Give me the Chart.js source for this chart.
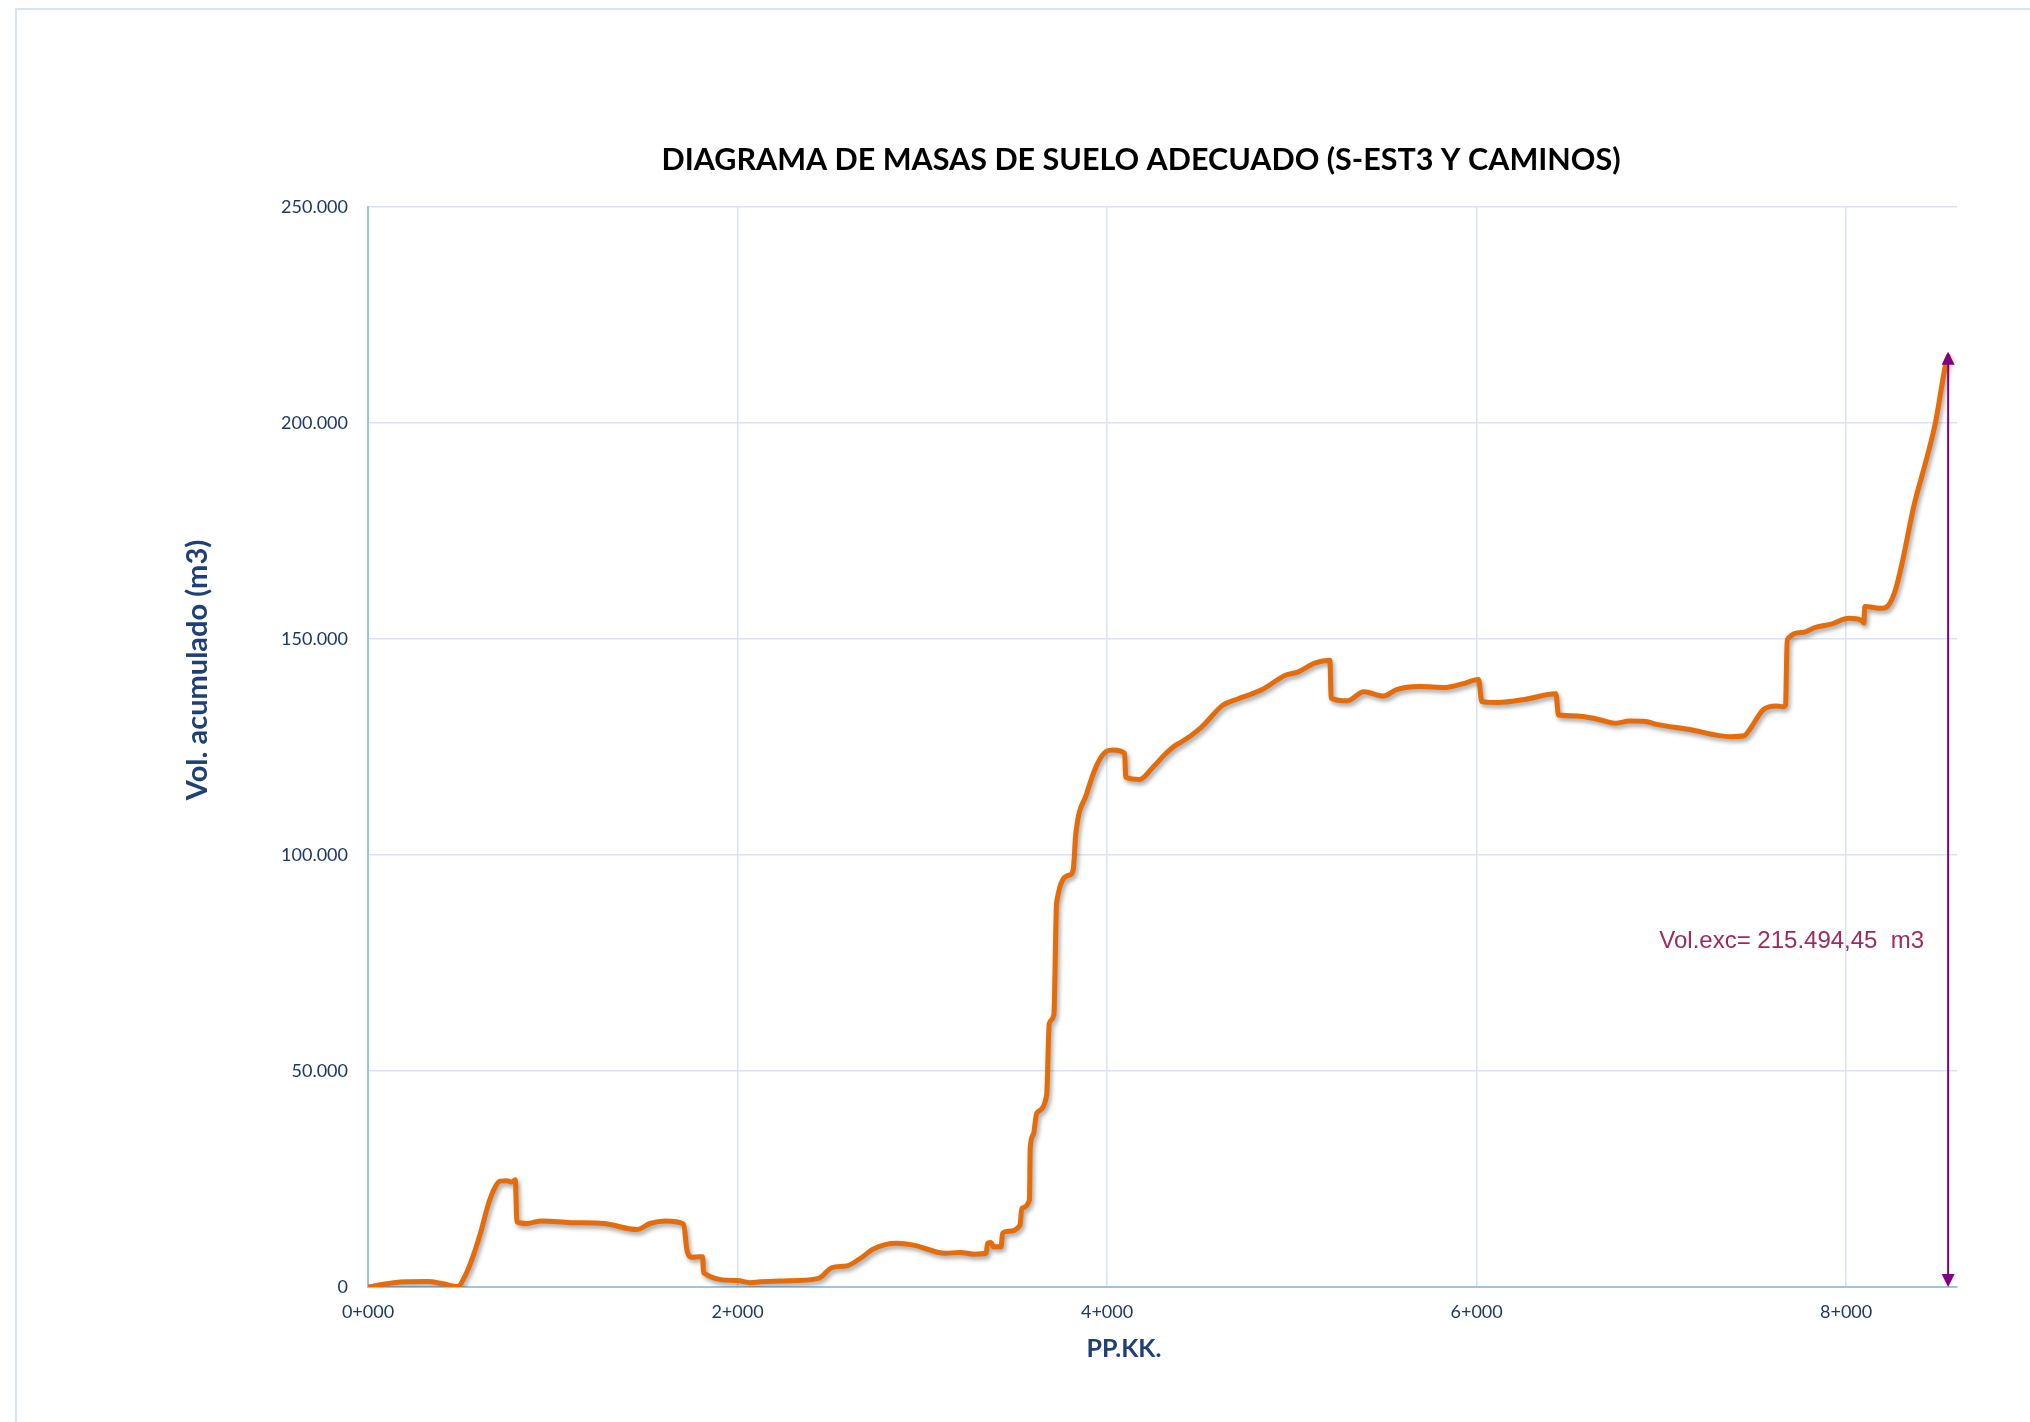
<!DOCTYPE html>
<html lang="es">
<head>
    <meta charset="UTF-8">
    <title>Diagrama de masas</title>
    <script src="https://cdn.jsdelivr.net/npm/chart.js"></script>
    <style>
        html, body {margin: 0; padding: 0; background: #fff;}
        #wrap {width: 2030px; height: 1422px;}
    </style>
</head>
<body>
    <div id="wrap">
        <canvas id="mass_canvas" width="2030" height="1422"></canvas>
    </div>
    <script>
        // PK (m) and accumulated volume (m3)
        const chainage = [
            0, 140, 320, 400, 485, 530, 555, 608, 653, 689, 715, 750, 779, 797, 806, 860, 941, 1095, 1275, 1455,
            1527, 1609, 1708, 1726, 1753, 1790, 1811, 1816, 1997, 2069, 2123, 2249, 2438, 2511, 2592, 2664, 2736, 2862, 2952, 3124,
            3205, 3277, 3346, 3353, 3371, 3386, 3426, 3435, 3466, 3529, 3538, 3580, 3584, 3601, 3619, 3673, 3687, 3712, 3727, 3799,
            3817, 3831, 3889, 3943, 3996, 4032, 4095, 4101, 4176, 4248, 4311, 4374, 4397, 4504, 4628, 4699, 4840, 4965, 5035, 5124,
            5206, 5213, 5301, 5390, 5496, 5567, 5691, 5833, 5922, 6011, 6028, 6117, 6259, 6429, 6443, 6543, 6649, 6755, 6826, 6915,
            6968, 7145, 7376, 7447, 7482, 7553, 7624, 7659, 7672, 7681, 7762, 7834, 7924, 8014, 8083, 8096, 8101, 8195, 8231, 8267,
            8303, 8366, 8429, 8483, 8540, 8552
        ];
        const volume = [
            0, 1000, 1250, 800, 100, 3000, 5500, 12400, 19400, 23200, 24500, 24600, 24300, 24800, 15100, 14700, 15300, 14900, 14700, 13300,
            14700, 15300, 14600, 8600, 6900, 7000, 7000, 3300, 1500, 1000, 1200, 1400, 2000, 4500, 4900, 6600, 8800, 10100, 9700, 7800,
            8000, 7600, 7800, 10100, 10300, 9300, 9300, 12500, 12900, 14300, 18200, 20200, 32000, 35300, 40200, 44400, 61000, 63000, 89000, 95400,
            96700, 105000, 114100, 120700, 124000, 124300, 123500, 118000, 117500, 120300, 123200, 125500, 126000, 129300, 134700, 136000, 138300, 141600, 142400, 144400,
            145100, 136300, 135700, 137800, 136800, 138300, 139000, 138800, 139600, 140600, 135500, 135300, 136000, 137300, 132400, 132200, 131500, 130500, 131000, 130900,
            130300, 129100, 127400, 127600, 129300, 133700, 134500, 134300, 134800, 149800, 151500, 152700, 153500, 154800, 154300, 153700, 157500, 157100, 157900, 161400,
            167600, 180700, 190700, 200000, 213800, 215500
        ];

        const xTicks = [0, 2000, 4000, 6000, 8000];
        const yTicks = [0, 50000, 100000, 150000, 200000, 250000];

        // excavated volume arrow
        const arrowPk = 8552;
        const arrowTop = 216500;
        const labelVol = 80000;
        const volLabel = 'Vol.exc= 215.494,45  m3';

        const chartTitle = 'DIAGRAMA DE MASAS DE SUELO ADECUADO (S-EST3 Y CAMINOS)';
        const yTitle = 'Vol. acumulado (m3)';
        const xTitle = 'PP.KK.';

        const fmtPk = (v) => Math.floor(v / 1000) + '+' + String(v % 1000).padStart(3, '0');
        const fmtVol = (v) => v === 0 ? '0' : v.toLocaleString('de-DE');

        const points = chainage.map((c, i) => ({x: c, y: volume[i]}));

        const paperPlugin = {
            id: 'paper',
            beforeDraw(chart) {
                const ctx = chart.ctx;
                ctx.save();
                ctx.fillStyle = '#fff';
                ctx.fillRect(0, 0, chart.width, chart.height);
                ctx.strokeStyle = '#D6E2F5';
                ctx.lineWidth = 2;
                ctx.strokeRect(16, 9, chart.width + 100, chart.height + 100);
                ctx.restore();
            }
        };

        const shadowPlugin = {
            id: 'lineShadow',
            beforeDatasetsDraw(chart) {
                const ctx = chart.ctx;
                ctx.save();
                ctx.shadowColor = 'rgba(0, 0, 0, 0.35)';
                ctx.shadowBlur = 4;
                ctx.shadowOffsetX = 2;
                ctx.shadowOffsetY = 3;
            },
            afterDatasetsDraw(chart) {
                chart.ctx.restore();
            }
        };

        const textPlugin = {
            id: 'texts',
            afterDraw(chart) {
                const ctx = chart.ctx;
                const xs = chart.scales.x, ys = chart.scales.y;
                ctx.save();

                ctx.fillStyle = '#000';
                ctx.font = 'bold 30.5px Lato';
                ctx.textAlign = 'center';
                ctx.textBaseline = 'middle';
                ctx.fillText(chartTitle, 1141, 160);

                ctx.fillStyle = '#1F3F77';
                ctx.font = 'bold 25px Lato';
                ctx.fillText(xTitle, 1124, 1349);

                ctx.save();
                ctx.translate(198, 670);
                ctx.rotate(-Math.PI / 2);
                ctx.font = 'bold 29px Lato';
                ctx.fillText(yTitle, 0, 0);
                ctx.restore();

                // double headed arrow
                const ax = xs.getPixelForValue(arrowPk);
                const y0 = ys.getPixelForValue(0);
                const y1 = ys.getPixelForValue(arrowTop);
                ctx.strokeStyle = '#800080';
                ctx.fillStyle = '#800080';
                ctx.lineWidth = 2;
                ctx.beginPath();
                ctx.moveTo(ax, y0 - 10);
                ctx.lineTo(ax, y1 + 10);
                ctx.stroke();
                ctx.beginPath();
                ctx.moveTo(ax, y1);
                ctx.lineTo(ax - 6.5, y1 + 13);
                ctx.lineTo(ax + 6.5, y1 + 13);
                ctx.closePath();
                ctx.fill();
                ctx.beginPath();
                ctx.moveTo(ax, y0);
                ctx.lineTo(ax - 6.5, y0 - 13);
                ctx.lineTo(ax + 6.5, y0 - 13);
                ctx.closePath();
                ctx.fill();

                ctx.fillStyle = '#9B2C62';
                ctx.font = '24px "Liberation Sans"';
                ctx.textAlign = 'right';
                ctx.fillText(volLabel, ax - 24, ys.getPixelForValue(labelVol));
                ctx.restore();
            }
        };

        new Chart(document.getElementById('mass_canvas'), {
            type: 'line',
            data: {
                datasets: [{
                    label: yTitle,
                    data: points,
                    borderColor: '#E46C0A',
                    borderWidth: 5,
                    pointRadius: 0,
                    fill: false,
                    cubicInterpolationMode: 'monotone',
                    borderJoinStyle: 'round',
                    borderCapStyle: 'round'
                }]
            },
            options: {
                responsive: false,
                animation: false,
                devicePixelRatio: 1,
                layout: {padding: {left: 0, right: 73, top: 207, bottom: 0}},
                plugins: {legend: {display: false}, tooltip: {enabled: false}},
                scales: {
                    x: {
                        type: 'linear',
                        min: 0,
                        max: 8600,
                        afterBuildTicks: (s) => { s.ticks = xTicks.map(v => ({value: v})); },
                        afterFit: (s) => { s.height = 135; },
                        grid: {color: '#DAE3F3', lineWidth: 1.5, drawTicks: false},
                        border: {color: '#9DC3E6', width: 2},
                        ticks: {
                            padding: 14,
                            color: '#1F3864',
                            font: {family: 'Lato', size: 18},
                            maxRotation: 0,
                            callback: (v) => fmtPk(v)
                        }
                    },
                    y: {
                        min: 0,
                        max: 250000,
                        afterBuildTicks: (s) => { s.ticks = yTicks.map(v => ({value: v})); },
                        afterFit: (s) => { s.width = 368; },
                        grid: {color: '#DAE3F3', lineWidth: 1.5, drawTicks: false},
                        border: {color: '#9DC3E6', width: 2},
                        ticks: {
                            padding: 20,
                            color: '#1F3864',
                            font: {family: 'Lato', size: 18},
                            callback: (v) => fmtVol(v)
                        }
                    }
                }
            },
            plugins: [paperPlugin, shadowPlugin, textPlugin]
        });
    </script>
</body>
</html>
